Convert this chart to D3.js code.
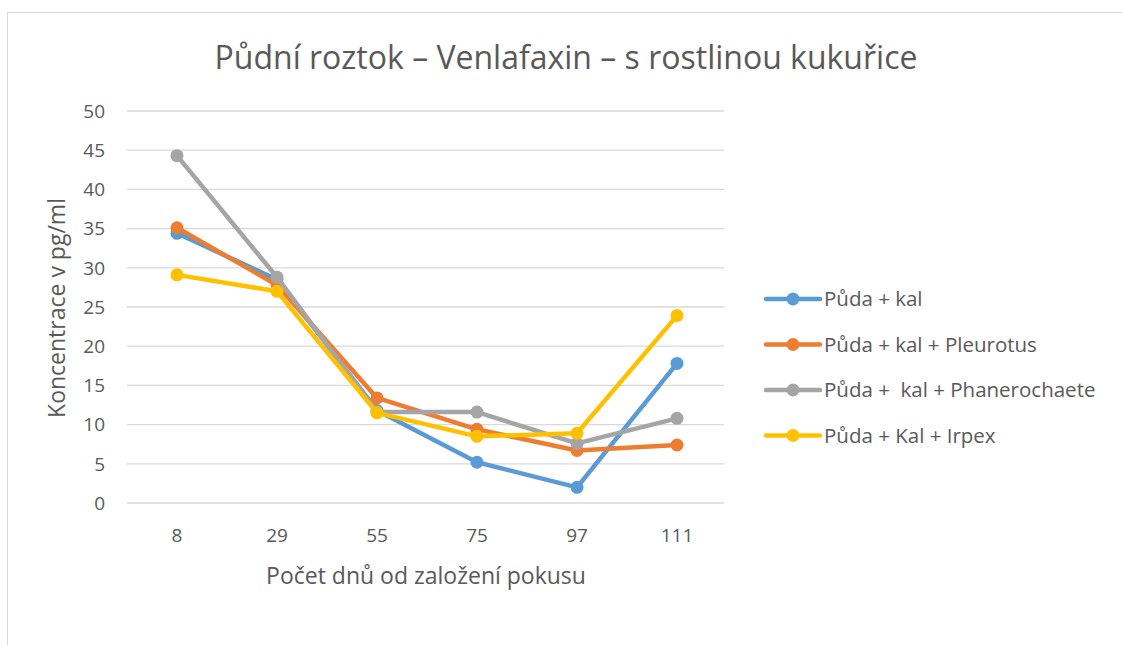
<!DOCTYPE html>
<html>
<head>
<meta charset="utf-8">
<script src="https://cdn.jsdelivr.net/npm/d3@7"></script>
<style>
  body { margin: 0; background: #fff; }
  text { font-family: "Open Sans", "Noto Sans", sans-serif; fill: #595959; }
</style>
</head>
<body>
<div class="home"></div>
<script>
// data
const days = ["8", "29", "55", "75", "97", "111"];
const seriesNames = ["Půda + kal", "Půda + kal + Pleurotus", "Půda +  kal + Phanerochaete", "Půda + Kal + Irpex"];
const pudaKal = [34.4, 28.5, 11.8, 5.2, 2.0, 17.8];
const pudaKalPleurotus = [35.1, 27.8, 13.4, 9.4, 6.7, 7.4];
const pudaKalPhanerochaete = [44.3, 28.8, 11.6, 11.6, 7.6, 10.8];
const pudaKalIrpex = [29.1, 27.0, 11.5, 8.5, 8.9, 23.9];
const colors = ["#5b9bd5", "#ed7d31", "#a5a5a5", "#ffc000"];
const yTicks = [0, 5, 10, 15, 20, 25, 30, 35, 40, 45, 50];

const width = 1122;
const height = 645;

const svg = d3.select(".home").append("svg")
  .attr("width", width)
  .attr("height", height);

// chart border
svg.append("rect")
  .attr("x", 7.5).attr("y", 12.5)
  .attr("width", width + 10).attr("height", height)
  .attr("fill", "#fff")
  .attr("stroke", "#d9d9d9")
  .attr("stroke-width", 1);

const x = d3.scaleBand().domain(days).range([127, 727]);
const y = d3.scaleLinear().domain([0, 50]).range([503, 111]);

// gridlines
svg.append("g").selectAll("line")
  .data(yTicks)
  .enter().append("line")
  .attr("x1", 127).attr("x2", 724)
  .attr("y1", d => y(d)).attr("y2", d => y(d))
  .attr("stroke", "#d9d9d9")
  .attr("stroke-width", 1.3);

// y tick labels
svg.append("g").selectAll("text")
  .data(yTicks)
  .enter().append("text")
  .attr("x", 105)
  .attr("y", d => y(d))
  .attr("dy", "0.36em")
  .attr("text-anchor", "end")
  .style("font-size", "19px")
  .text(d => d);

// x tick labels
svg.append("g").selectAll("text")
  .data(days)
  .enter().append("text")
  .attr("x", d => x(d) + x.bandwidth() / 2)
  .attr("y", 542)
  .attr("text-anchor", "middle")
  .style("font-size", "19px")
  .text(d => d);

// title
svg.append("text")
  .attr("x", 566).attr("y", 69)
  .attr("text-anchor", "middle")
  .style("font-size", "32px")
  .text("Půdní roztok – Venlafaxin – s rostlinou kukuřice");

// axis titles
svg.append("text")
  .attr("x", 426).attr("y", 584)
  .attr("text-anchor", "middle")
  .style("font-size", "23px")
  .text("Počet dnů od založení pokusu");

svg.append("text")
  .attr("transform", "translate(65,308) rotate(-90)")
  .attr("text-anchor", "middle")
  .style("font-size", "23px")
  .text("Koncentrace v pg/ml");

// series
const allSeries = [pudaKal, pudaKalPleurotus, pudaKalPhanerochaete, pudaKalIrpex];
const line = d3.line()
  .x((d, i) => x(days[i]) + x.bandwidth() / 2)
  .y(d => y(d));

allSeries.forEach((vals, s) => {
  const g = svg.append("g");
  g.append("path")
    .attr("d", line(vals))
    .attr("fill", "none")
    .attr("stroke", colors[s])
    .attr("stroke-width", 4.5)
    .attr("stroke-linejoin", "round")
    .attr("stroke-linecap", "round");
  g.selectAll("circle")
    .data(vals)
    .enter().append("circle")
    .attr("cx", (d, i) => x(days[i]) + x.bandwidth() / 2)
    .attr("cy", d => y(d))
    .attr("r", 6.5)
    .attr("fill", colors[s]);
});

// legend
const legend = svg.append("g").selectAll("g")
  .data(seriesNames)
  .enter().append("g")
  .attr("transform", (d, i) => "translate(0," + (299 + i * 45.5) + ")");
legend.append("line")
  .attr("x1", 766).attr("x2", 820)
  .attr("stroke", (d, i) => colors[i])
  .attr("stroke-width", 4.5)
  .attr("stroke-linecap", "round");
legend.append("circle")
  .attr("cx", 793).attr("r", 6.5)
  .attr("fill", (d, i) => colors[i]);
legend.append("text")
  .attr("x", 824)
  .attr("dy", "0.36em")
  .style("font-size", "20.5px")
  .style("white-space", "pre")
  .text(d => d);
</script>
</body>
</html>
